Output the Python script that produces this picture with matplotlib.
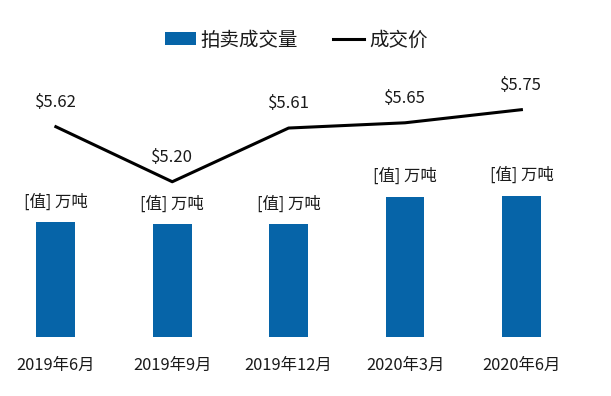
import matplotlib
matplotlib.use('Agg')
import matplotlib.pyplot as plt
import numpy as np

plt.rcParams['font.family'] = ['Liberation Sans Narrow', 'Noto Sans CJK SC', 'DejaVu Sans']

# data
months = ['2019年6月', '2019年9月', '2019年12月', '2020年3月', '2020年6月']
volume = [40.5, 40.0, 40.0, 49.7, 50.0]   # 拍卖成交量 (万吨), labels in source are placeholders
price = [5.62, 5.20, 5.61, 5.65, 5.75]    # 成交价
bar_label = '[值] 万吨'

blue = '#0664a8'
txt = '#1a1a1a'

fig = plt.figure(figsize=(6.11, 3.96), dpi=100)
ax = fig.add_axes([0, 0.1497, 1, 0.787])
x = np.arange(len(months))

bars = ax.bar(x, volume, width=0.335, color=blue, label='拍卖成交量', zorder=2)
ax.set_ylim(0, 110.5)
ax.set_xlim(-0.48, 4.77)

for xi, v in zip(x, volume):
    ax.annotate(bar_label, (xi, v), xytext=(0, 14.5), textcoords='offset points',
                ha='center', va='center', fontsize=11.8, color=txt)

ax2 = ax.twinx()
ln, = ax2.plot(x, price, color='black', lw=2.2, label='成交价', zorder=3,
               solid_joinstyle='round')
ax2.set_ylim(4.017, 6.396)
for xi, p in zip(x, price):
    ax2.annotate('$%.2f' % p, (xi, p), xytext=(0, 17.5), textcoords='offset points',
                 ha='center', va='center', fontsize=12, color=txt)

ax.set_xticks(x)
ax.set_xticklabels(months, fontsize=11.8, color=txt)
ax.tick_params(axis='x', length=0, pad=14.5)
ax.set_yticks([])
ax2.set_yticks([])
for a in (ax, ax2):
    for s in a.spines.values():
        s.set_visible(False)

fig.legend([bars, ln], ['拍卖成交量', '成交价'], loc='center',
           bbox_to_anchor=(296 / 611, 1 - 40 / 396), ncol=2, frameon=False,
           fontsize=14, handlelength=1.6, handleheight=0.6, handletextpad=0.25,
           columnspacing=1.8, labelcolor=txt)

fig.savefig('out.png', dpi=100)
